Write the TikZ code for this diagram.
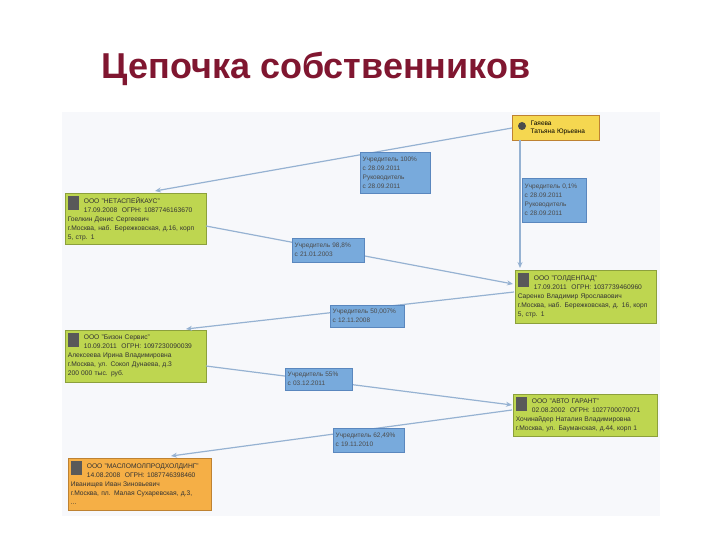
\documentclass[tikz,border=0pt]{standalone}
\usepackage{fontspec}
\setmainfont{Liberation Sans}
\usetikzlibrary{arrows.meta}
\definecolor{titlered}{RGB}{128,22,48}
\definecolor{panel}{RGB}{247,248,251}
\definecolor{gfill}{RGB}{190,214,80}
\definecolor{gline}{RGB}{140,160,60}
\definecolor{ofill}{RGB}{245,175,70}
\definecolor{oline}{RGB}{190,130,50}
\definecolor{yfill}{RGB}{245,215,80}
\definecolor{bfill}{RGB}{120,170,220}
\definecolor{bline}{RGB}{90,135,190}
\definecolor{edgec}{RGB}{150,178,210}
\begin{document}
\begin{tikzpicture}[x=1pt,y=-1pt,
  firm/.style={draw=gline,fill=gfill,line width=0.6pt,anchor=north west,align=left,inner sep=2.5pt,font=\fontsize{6.7}{9}\selectfont,text=black!80},
  ofirm/.style={firm,draw=oline,fill=ofill},
  lab/.style={draw=bline,fill=bfill,anchor=north west,align=left,inner xsep=2.5pt,inner ysep=2.5pt,font=\fontsize{6.5}{9}\selectfont,text=black!70},
  conn/.style={draw=edgec,line width=1.2pt,-{Stealth[length=6pt,width=5pt]}},
  bicon/.style={fill=black!65,minimum width=11pt,minimum height=14pt,inner sep=0pt,anchor=north west}]
\useasboundingbox (0,0) rectangle (720,540);
\node[anchor=base west,text=titlered,font=\bfseries\fontsize{36}{42}\selectfont] (title) at (98,79) {Цепочка собственников};
\fill[panel] (62,112) rectangle (660,516);

\node[draw=oline,fill=yfill,anchor=north west,text width=82pt,minimum height=25pt,align=left,inner sep=2.5pt,font=\fontsize{6.5}{8.5}\selectfont] (p) at (512,115) {\hspace*{16pt}Гаяева\\\hspace*{16pt}Татьяна Юрьевна};
\node[fill=black!70,circle,minimum size=8pt,inner sep=0pt] (picon) at (522,126) {};

\node[firm,text width=136pt,minimum height=51pt] (f1) at (65,193) {\hspace*{16pt}ООО "НЕТАСПЕЙКАУС"\\\hspace*{16pt}17.09.2008 \ ОГРН: 1087746163670\\Гоелкин Денис Сергеевич\\г.Москва, наб. Бережковская, д.16, корп\\5, стр. 1};
\node[firm,text width=136pt,minimum height=53pt] (f2) at (515,270) {\hspace*{16pt}ООО "ГОЛДЕНПАД"\\\hspace*{16pt}17.09.2011 \ ОГРН: 1037739460960\\Саренко Владимир Ярославович\\г.Москва, наб. Бережковская, д. 16, корп\\5, стр. 1};
\node[firm,text width=136pt,minimum height=52pt] (f3) at (65,330) {\hspace*{16pt}ООО "Бизон Сервис"\\\hspace*{16pt}10.09.2011 \ ОГРН: 1097230090039\\Алексеева Ирина Владимировна\\г.Москва, ул. Сокол Дунаева, д.3\\200 000 тыс. руб.};
\node[firm,text width=139pt,minimum height=42pt] (f4) at (513,394) {\hspace*{16pt}ООО "АВТО ГАРАНТ"\\\hspace*{16pt}02.08.2002 \ ОГРН: 1027700070071\\Хочинайдер Наталия Владимировна\\г.Москва, ул. Бауманская, д.44, корп 1};
\node[ofirm,text width=138pt,minimum height=52pt] (f5) at (68,458) {\hspace*{16pt}ООО "МАСЛОМОЛПРОДХОЛДИНГ"\\\hspace*{16pt}14.08.2008 \ ОГРН: 1087746398460\\Иванищев Иван Зиновьевич\\г.Москва, пл. Малая Сухаревская, д.3,\\...};

\node[bicon] (i1) at (68,196) {};
\node[bicon] (i2) at (518,273) {};
\node[bicon] (i3) at (68,333) {};
\node[bicon] (i4) at (516,397) {};
\node[bicon] (i5) at (71,461) {};

\coordinate (pa) at (512,128);
\coordinate (pb) at (520,140);
\coordinate (t1) at (155,191);
\coordinate (t2) at (520,268);
\coordinate (s1) at (206,226);
\coordinate (e2) at (513,284);
\coordinate (s2) at (514,292);
\coordinate (t3) at (186,329);
\coordinate (s3) at (206,366);
\coordinate (e4) at (512,405);
\coordinate (s4) at (512,410);
\coordinate (t5) at (171,456);
\draw[conn] (pa) -- (t1);
\draw[conn] (pb) -- (t2);
\draw[conn] (s1) -- (e2);
\draw[conn] (s2) -- (t3);
\draw[conn] (s3) -- (e4);
\draw[conn] (s4) -- (t5);

\node[lab,text width=65pt,minimum height=41pt] (la) at (360,152) {Учредитель 100\%\\с 28.09.2011\\Руководитель\\с 28.09.2011};
\node[lab,text width=59pt,minimum height=44pt] (lb) at (522,178) {Учредитель 0,1\%\\с 28.09.2011\\Руководитель\\с 28.09.2011};
\node[lab,text width=67pt,minimum height=24pt] (lc) at (292,238) {Учредитель 98,8\%\\с 21.01.2003};
\node[lab,text width=69pt,minimum height=22pt] (ld) at (330,305) {Учредитель 50,007\%\\с 12.11.2008};
\node[lab,text width=62pt,minimum height=22pt] (le) at (285,368) {Учредитель 55\%\\с 03.12.2011};
\node[lab,text width=66pt,minimum height=24pt] (lf) at (333,428) {Учредитель 62,49\%\\с 19.11.2010};
\end{tikzpicture}
\end{document}
